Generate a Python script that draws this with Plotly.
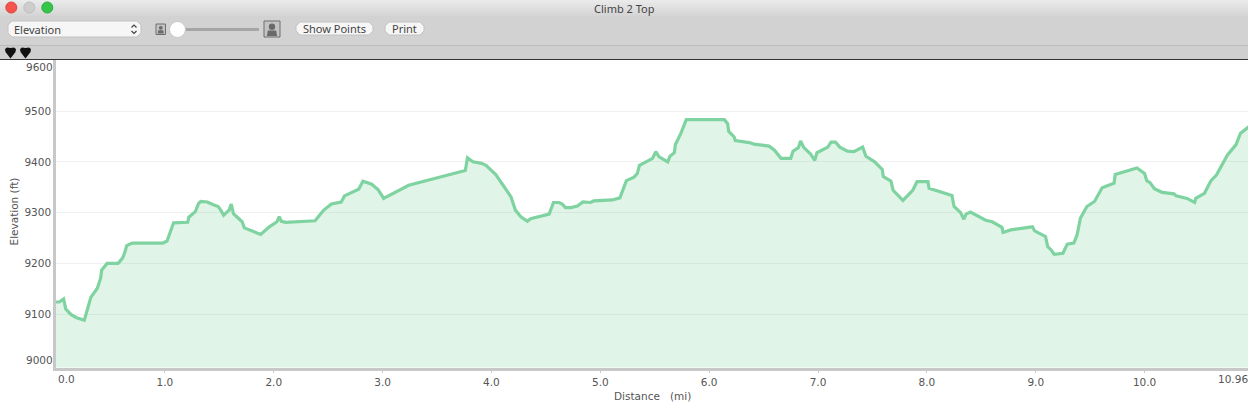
import plotly.graph_objects as go

distance = [0.00, 0.03, 0.07, 0.09, 0.14, 0.19, 0.26, 0.28, 0.30, 0.32, 0.38, 0.41, 0.42, 0.47, 0.57, 0.61, 0.63, 0.65, 0.70, 0.98,
            1.02, 1.05, 1.08, 1.21, 1.22, 1.28, 1.31, 1.33, 1.39, 1.44, 1.49, 1.51, 1.54, 1.59, 1.61, 1.63, 1.71, 1.73, 1.88, 1.96,
            2.03, 2.05, 2.07, 2.11, 2.38, 2.41, 2.46, 2.53, 2.59, 2.62, 2.65, 2.78, 2.82, 2.90, 2.96, 3.01, 3.24, 3.76, 3.78, 3.83,
            3.91, 3.95, 4.04, 4.08, 4.18, 4.22, 4.27, 4.33, 4.36, 4.53, 4.57, 4.62, 4.65, 4.68, 4.73, 4.79, 4.84, 4.91, 4.94, 5.11,
            5.18, 5.24, 5.31, 5.34, 5.36, 5.48, 5.51, 5.54, 5.62, 5.64, 5.68, 5.69, 5.74, 5.79, 6.14, 6.17, 6.18, 6.23, 6.24, 6.37,
            6.41, 6.55, 6.60, 6.66, 6.75, 6.77, 6.82, 6.84, 6.87, 6.93, 6.97, 6.99, 7.09, 7.12, 7.16, 7.20, 7.27, 7.33, 7.41, 7.44,
            7.52, 7.59, 7.60, 7.67, 7.69, 7.78, 7.87, 7.91, 8.01, 8.02, 8.23, 8.25, 8.31, 8.34, 8.36, 8.40, 8.54, 8.60, 8.69, 8.70,
            8.77, 8.97, 8.99, 9.09, 9.11, 9.14, 9.17, 9.25, 9.29, 9.35, 9.38, 9.41, 9.47, 9.54, 9.61, 9.67, 9.72, 9.73, 9.93, 10.00,
            10.02, 10.05, 10.09, 10.16, 10.27, 10.29, 10.39, 10.46, 10.47, 10.55, 10.61, 10.66, 10.76, 10.84, 10.88, 10.95, 10.96]
elevation = [9124, 9124, 9130, 9110, 9099, 9093, 9088, 9101, 9118, 9133, 9151, 9171, 9187, 9200, 9200, 9210, 9220, 9235, 9240, 9240,
             9244, 9262, 9280, 9281, 9291, 9302, 9318, 9322, 9321, 9316, 9312, 9306, 9295, 9305, 9317, 9298, 9282, 9270, 9257, 9272,
             9282, 9292, 9283, 9281, 9284, 9292, 9305, 9317, 9319, 9321, 9333, 9346, 9362, 9356, 9345, 9328, 9354, 9383, 9408, 9400,
             9397, 9393, 9375, 9362, 9331, 9305, 9292, 9283, 9288, 9297, 9320, 9320, 9317, 9310, 9310, 9313, 9321, 9320, 9323, 9325,
             9329, 9363, 9370, 9377, 9393, 9407, 9420, 9410, 9400, 9411, 9418, 9434, 9456, 9483, 9483, 9475, 9460, 9449, 9442, 9438,
             9435, 9431, 9423, 9407, 9407, 9421, 9428, 9441, 9428, 9416, 9403, 9418, 9429, 9439, 9439, 9429, 9421, 9420, 9429, 9411,
             9400, 9385, 9371, 9362, 9344, 9324, 9344, 9361, 9361, 9348, 9334, 9312, 9300, 9287, 9297, 9301, 9285, 9282, 9271, 9261,
             9266, 9272, 9264, 9253, 9233, 9227, 9218, 9220, 9238, 9240, 9256, 9289, 9312, 9322, 9349, 9354, 9358, 9375, 9388, 9377,
             9363, 9359, 9347, 9340, 9337, 9333, 9328, 9320, 9328, 9338, 9363, 9374, 9413, 9434, 9456, 9468, 9470]

x_ticks = [1, 2, 3, 4, 5, 6, 7, 8, 9, 10]
x_tick_labels = ['1.0', '2.0', '3.0', '4.0', '5.0', '6.0', '7.0', '8.0', '9.0', '10.0']
y_ticks = [9100, 9200, 9300, 9400, 9500]
y_tick_labels = ['9100', '9200', '9300', '9400', '9500']

W = 1248
H = 408
AXIS_FONT = dict(family='DejaVu Sans', size=10.5, color='#555555')
UI_FONT = 'Noto Sans'


def px(x):
    return x / W


def py(y):
    return 1 - y / H


def rect(x0, y0, x1, y1, fill, line=None):
    return dict(type='rect', xref='paper', yref='paper', x0=px(x0), x1=px(x1), y0=py(y0), y1=py(y1),
                fillcolor=fill, line=dict(color=line or fill, width=1 if line else 0), layer='above')


def circle(cx, cy, r, fill, line=None):
    return dict(type='circle', xref='paper', yref='paper', x0=px(cx - r), x1=px(cx + r), y0=py(cy - r), y1=py(cy + r),
                fillcolor=fill, line=dict(color=line or fill, width=1 if line else 0), layer='above')


def path(points, fill=None, color=None, width=0):
    # points are window pixels, converted to paper coordinates
    d = 'M ' + ' L '.join(f'{px(a):.5f} {py(b):.5f}' for a, b in points)
    if fill:
        d += ' Z'
    return dict(type='path', xref='paper', yref='paper', path=d, fillcolor=fill or 'rgba(0,0,0,0)',
                line=dict(color=color or 'rgba(0,0,0,0)', width=width), layer='above')


def rounded(x0, y0, x1, y1, r, fill, line):
    pts = [(x0 + r, y0), (x1 - r, y0), (x1, y0 + r), (x1, y1 - r), (x1 - r, y1), (x0 + r, y1), (x0, y1 - r), (x0, y0 + r)]
    return path(pts, fill=fill, color=line, width=1)


def label(x, y, text, size, color='#444444', family=UI_FONT, xanchor='left', angle=0):
    return dict(xref='paper', yref='paper', x=px(x), y=py(y), text=text, showarrow=False, xanchor=xanchor, yanchor='middle',
                textangle=angle, borderpad=0, borderwidth=0, font=dict(family=family, size=size, color=color))


def person_icon(x0, y0, x1, y1):
    cx = (x0 + x1) / 2
    w = x1 - x0
    h = y1 - y0
    return [
        rect(x0, y0, x1, y1, '#c4c4c4', '#6e6e6e'),
        circle(cx, y0 + h * 0.36, w * 0.2, '#6a6a6a'),
        path([(x0 + w * 0.18, y1 - 1), (x0 + w * 0.24, y0 + h * 0.6), (x1 - w * 0.24, y0 + h * 0.6), (x1 - w * 0.18, y1 - 1)], fill='#6a6a6a'),
    ]


def pin(cx):
    return path([(cx - 5.5, 49), (cx - 3.5, 47.5), (cx, 48), (cx + 3.5, 47.5), (cx + 5.5, 49), (cx + 5, 52), (cx, 58.5), (cx - 5, 52)], fill='#111111')


# window chrome, drawn above the empty part of the page
shapes = [rect(0, 0, W, 59.5, '#d2d2d2')]
grey = 234
for row in range(16):
    shapes.append(rect(0, row, W, row + 1, f'rgb({grey},{grey},{grey})'))
    grey -= 1.4
shapes += [
    rect(0, 45, W, 46, '#bcbcbc'),
    rect(0, 46, W, 59, '#cfcfcf'),
    rect(0, 59, W, 60, '#333333'),
    circle(11.3, 7.5, 5.5, '#f4544c', '#e0443e'),
    circle(29.3, 7.5, 5.5, '#cdcdcd', '#bdbdbd'),
    circle(47.3, 7.5, 5.5, '#35c649', '#2aad3c'),
    rounded(8, 21, 141, 37, 4, '#f6f6f6', '#c2c2c2'),
    path([(131.5, 27.5), (134, 25), (136.5, 27.5)], color='#444444', width=1.2),
    path([(131.5, 31), (134, 33.5), (136.5, 31)], color='#444444', width=1.2),
    rect(185, 28, 259, 31, '#a6a6a6'),
    circle(177.5, 29.5, 8, '#ffffff', '#c8c8c8'),
    rounded(296, 22, 373, 35, 4, '#f6f6f6', '#c2c2c2'),
    rounded(385, 22, 424, 35, 4, '#f6f6f6', '#c2c2c2'),
    pin(10.5),
    pin(25.5),
]
shapes += person_icon(156, 24, 165.5, 34.5)
shapes += person_icon(264, 21, 280, 37)

annotations = [
    label(624, 8, 'Climb 2 Top', 11, xanchor='center'),
    label(14, 29.5, 'Elevation', 11),
    label(334.5, 28.5, 'Show Points', 11, xanchor='center'),
    label(404.5, 28.5, 'Print', 11, xanchor='center'),
    label(53, 67.5, '9600', AXIS_FONT['size'], color=AXIS_FONT['color'], family=AXIS_FONT['family'], xanchor='right'),
    label(53, 360, '9000', AXIS_FONT['size'], color=AXIS_FONT['color'], family=AXIS_FONT['family'], xanchor='right'),
    label(66, 378.5, '0.0', AXIS_FONT['size'], color=AXIS_FONT['color'], family=AXIS_FONT['family'], xanchor='center'),
    label(1248, 378.5, '10.96', AXIS_FONT['size'], color=AXIS_FONT['color'], family=AXIS_FONT['family'], xanchor='right'),
    label(652, 396, 'Distance &nbsp; (mi)', AXIS_FONT['size'], color=AXIS_FONT['color'], family=AXIS_FONT['family'], xanchor='center'),
    label(13.5, 212, 'Elevation (ft)', AXIS_FONT['size'], color=AXIS_FONT['color'], family=AXIS_FONT['family'], xanchor='center', angle=-90),
]

fig = go.Figure(go.Scatter(
    x=distance,
    y=elevation,
    mode='lines',
    line=dict(color='#7fd3a0', width=3.2),
    fill='tozeroy',
    fillcolor='rgba(127,212,160,0.24)',
    hoverinfo='skip'
))

fig.update_layout(
    width=W,
    height=H,
    margin=dict(l=0, r=0, t=0, b=0),
    paper_bgcolor='white',
    plot_bgcolor='white',
    showlegend=False,
    shapes=shapes,
    annotations=annotations,
    xaxis=dict(
        domain=[56 / W, 1], range=[0, 10.95], tickvals=x_ticks, ticktext=x_tick_labels, tickfont=AXIS_FONT,
        ticks='outside', ticklen=3, tickcolor='#c8c8c8', showgrid=False, zeroline=False,
        showline=True, linecolor='#c8c8c8', linewidth=2.5
    ),
    yaxis=dict(
        domain=[(H - 367.5) / H, (H - 60) / H], range=[8995, 9600.6], tickvals=y_ticks, ticktext=y_tick_labels, tickfont=AXIS_FONT,
        showgrid=True, gridcolor='#f0f0f0', gridwidth=1, zeroline=False, ticks='',
        showline=True, linecolor='#c8c8c8', linewidth=2.5
    ),
)

# the page's default body margin would push the window 8px off
fig.write_html("out.html", config={'displayModeBar': False},
               post_script="document.body.style.margin='0';document.body.style.overflow='hidden';")
